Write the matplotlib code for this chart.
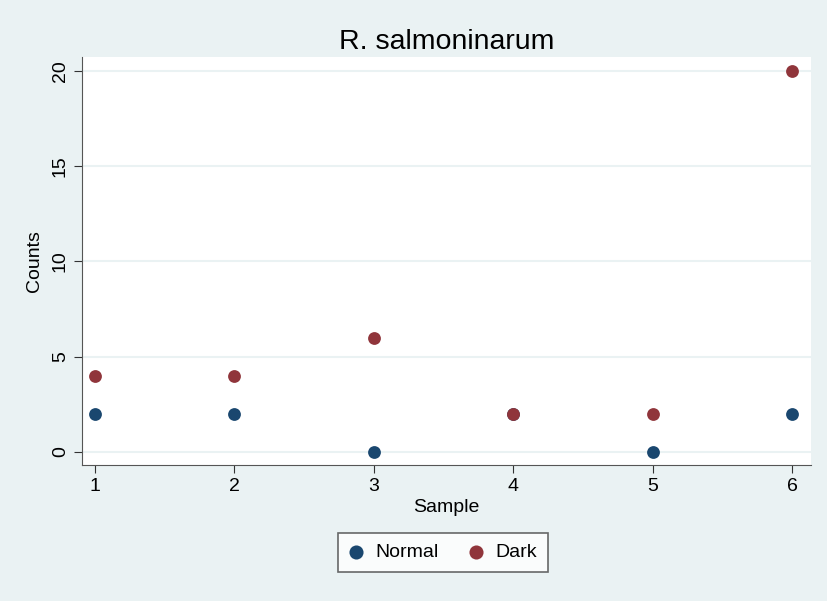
import matplotlib
matplotlib.use("Agg")
import matplotlib.pyplot as plt

sample = [1, 2, 3, 4, 5, 6]
normal = [2, 2, 0, 2, 0, 2]
dark = [4, 4, 6, 2, 2, 20]

bg = "#eaf2f3"
navy = "#1a476f"
maroon = "#90353b"

plt.rcParams['font.family'] = ['Liberation Sans', 'DejaVu Sans']

fig = plt.figure(figsize=(8.27, 6.01), dpi=100, facecolor=bg)
ax = fig.add_axes([82 / 827, 1 - 465 / 601, (811 - 82) / 827, (465 - 57) / 601])
ax.set_facecolor("white")

ax.scatter(sample, normal, s=85, color=navy, linewidths=0, label="Normal", zorder=3)
ax.scatter(sample, dark, s=85, color=maroon, linewidths=0, label="Dark", zorder=3)

ax.set_xlim(0.907, 6.136)
ax.set_ylim(-0.68, 20.73)
ax.set_xticks(sample)
ax.set_yticks([0, 5, 10, 15, 20])
ax.set_yticklabels(["0", "5", "10", "15", "20"], rotation=90, va="center")
ax.grid(axis="y", color=bg, linewidth=1.5, zorder=0)
ax.set_axisbelow(True)

for side in ["top", "right"]:
    ax.spines[side].set_visible(False)
for side in ["left", "bottom"]:
    ax.spines[side].set_color("#555555")
ax.tick_params(labelsize=14, color="#333333", length=6)

ax.set_xlabel("Sample", fontsize=14, labelpad=3)
ax.set_ylabel("Counts", fontsize=14, labelpad=6)
ax.set_title("R. salmoninarum", fontsize=20.5, pad=6)

leg = ax.legend(loc="upper center", bbox_to_anchor=(0.495, -0.143), ncol=2,
                fontsize=14, frameon=True, fancybox=False, edgecolor="#444444",
                handlelength=0.8, handletextpad=0.6, columnspacing=1.5,
                borderpad=0.55, markerscale=1.1)
leg.get_frame().set_linewidth(1.2)

fig.savefig("out.png", dpi=100, facecolor=bg)
